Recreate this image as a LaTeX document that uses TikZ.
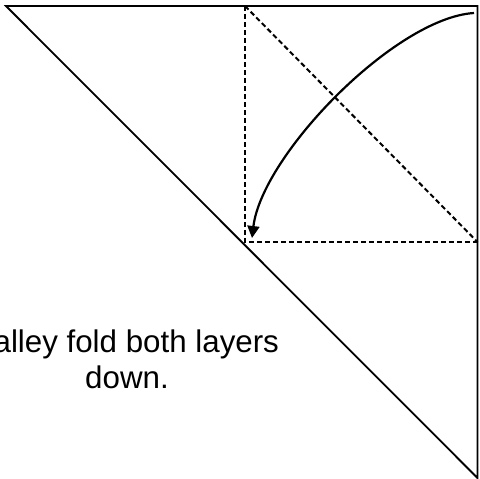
\documentclass[tikz,border=0pt]{standalone}
\usepackage{fontspec}
\setmainfont{Liberation Sans}
\usetikzlibrary{arrows.meta}
\begin{document}
\begin{tikzpicture}[x=1pt,y=1pt,
  edge/.style={line width=1.8pt, line join=miter},
  crease/.style={line width=2pt, dash pattern=on 5pt off 3pt},
  foldarrow/.style={line width=2.2pt, -{Triangle[length=12pt,width=12pt]}},
  caption/.style={font=\fontsize{31.3}{36}\selectfont, align=center, inner sep=0pt}]
\useasboundingbox (0,0) rectangle (480,-479);
\coordinate (A) at (6,-6);
\coordinate (B) at (477.5,-6);
\coordinate (C) at (477.5,-478);
\coordinate (D) at (245,-6);
\coordinate (E) at (245,-242);
\coordinate (F) at (477.5,-242);
\coordinate (S) at (474,-13);
\coordinate (T) at (252,-238);
\draw[edge] (A) -- (B) -- (C) -- cycle;
\draw[crease] (D) -- (E) -- (F);
\draw[crease] (D) -- (F);
\draw[foldarrow] (S) .. controls (395,-18) and (262,-155) .. (T);
\node[caption, anchor=base] (cap) at (127,-388.5) {Valley fold both layers\\down.};
\end{tikzpicture}
\end{document}
